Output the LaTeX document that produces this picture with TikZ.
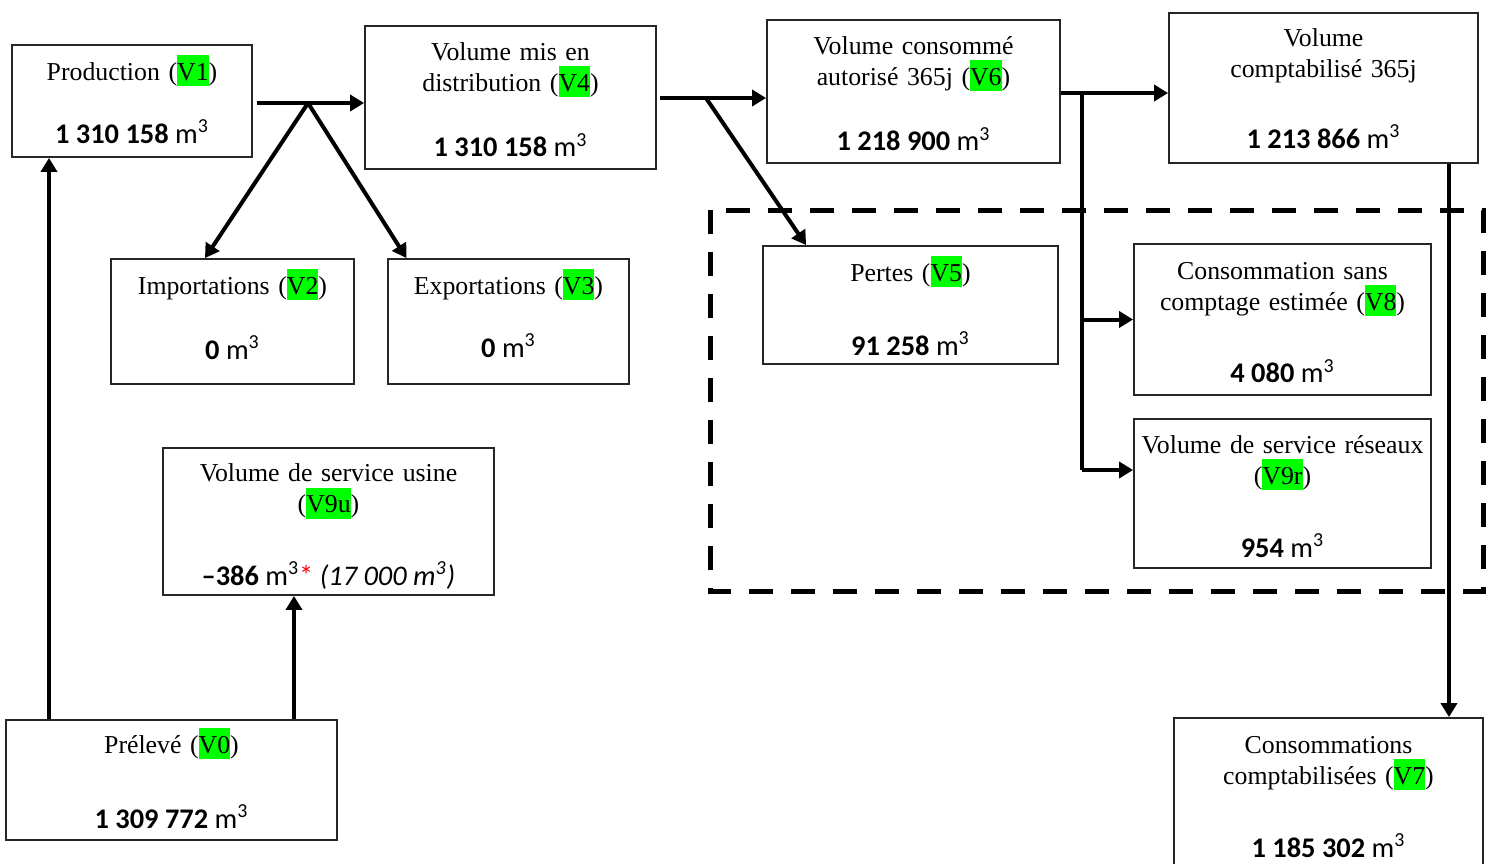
\documentclass[tikz,border=0pt]{standalone}
\usepackage{fontspec}
\setmainfont{Liberation Serif}
\newfontfamily\numfont{Carlito}
\usetikzlibrary{arrows.meta}
\definecolor{hlgreen}{RGB}{0,255,0}
\setlength{\fboxsep}{0pt}
\newcommand{\hl}[1]{\smash{\colorbox{hlgreen}{\rule[-3pt]{0pt}{15.5pt}#1}}}
\newcommand{\vol}[1]{\textbf{#1} m\textsuperscript{3}}

\begin{document}
\begin{tikzpicture}[x=0.5pt, y=-0.5pt,
    box/.style={draw=black!85, line width=0.9pt, rectangle, inner sep=0pt},
    lbl/.style={anchor=base, align=center, text width=168pt, inner sep=0pt,
        font=\fontsize{12.9}{15.5}\selectfont},
    qty/.style={anchor=base, inner sep=0pt, font=\numfont\fontsize{14.2}{17}\selectfont},
    flow/.style={line width=2pt, -{Triangle[length=7pt,width=8pt]}},
    trunk/.style={line width=2pt},
    zone/.style={line width=2.5pt, dash pattern=on 12pt off 9pt}]

\useasboundingbox (0,0) rectangle (1489,863);
\clip (0,0) rectangle (1489,863);

\node[box, minimum width=120pt, minimum height=56pt] (v1) at (132,101) {};
\node[lbl] (v1t) at (132,80) {Production (\hl{V1})};
\node[qty] (v1q) at (132,143) {\vol{1 310 158}};

\node[box, minimum width=145.5pt, minimum height=71.5pt] (v4) at (510.5,97.5) {};
\node[lbl] (v4t) at (510.5,60) {Volume mis en\\distribution (\hl{V4})};
\node[qty] (v4q) at (510.5,156.5) {\vol{1 310 158}};

\node[box, minimum width=146.5pt, minimum height=71.5pt] (v6) at (913.5,91.5) {};
\node[lbl] (v6t) at (913.5,54) {Volume consommé\\autorisé 365j (\hl{V6})};
\node[qty] (v6q) at (913.5,150.5) {\vol{1 218 900}};

\node[box, minimum width=154.5pt, minimum height=75pt] (vc) at (1323.5,88) {};
\node[lbl] (vct) at (1323.5,46) {Volume\\comptabilisé 365j};
\node[qty] (vcq) at (1323.5,148) {\vol{1 213 866}};

\node[box, minimum width=121.5pt, minimum height=62.5pt] (v2) at (232.5,321.5) {};
\node[lbl] (v2t) at (232.5,294) {Importations (\hl{V2})};
\node[qty] (v2q) at (232.5,359) {\vol{0}};

\node[box, minimum width=120.5pt, minimum height=62.5pt] (v3) at (508.5,321.5) {};
\node[lbl] (v3t) at (508.5,294) {Exportations (\hl{V3})};
\node[qty] (v3q) at (508.5,357) {\vol{0}};

\node[box, minimum width=147.5pt, minimum height=59pt] (v5) at (910.5,305) {};
\node[lbl] (v5t) at (910.5,281) {Pertes (\hl{V5})};
\node[qty] (v5q) at (910.5,355) {\vol{91 258}};

\node[box, minimum width=148.5pt, minimum height=75.5pt] (v8) at (1282.5,319.5) {};
\node[lbl] (v8t) at (1282.5,279) {Consommation sans\\comptage estimée (\hl{V8})};
\node[qty] (v8q) at (1282.5,382.5) {\vol{4 080}};

\node[box, minimum width=148.5pt, minimum height=74.5pt] (v9r) at (1282.5,493.5) {};
\node[lbl] (v9rt) at (1282.5,453) {Volume de service réseaux\\(\hl{V9r})};
\node[qty] (v9rq) at (1282.5,557) {\vol{954}};

\node[box, minimum width=165.5pt, minimum height=73.5pt] (v9u) at (328.5,521.5) {};
\node[lbl] (v9ut) at (328.5,481.5) {Volume de service usine\\(\hl{V9u})};
\node[qty] (v9uq) at (328.5,585) {\vol{–386}\textcolor{red}{*} \textit{(17 000 m\textsuperscript{3})}};

\node[box, minimum width=165.5pt, minimum height=60pt] (v0) at (171.5,780) {};
\node[lbl] (v0t) at (171.5,753) {Prélevé (\hl{V0})};
\node[qty] (v0q) at (171.5,828) {\vol{1 309 772}};

\node[box, minimum width=154.5pt, minimum height=81pt] (v7) at (1328.5,799) {};
\node[lbl] (v7t) at (1328.5,753) {Consommations\\comptabilisées (\hl{V7})};
\node[qty] (v7q) at (1328.5,857) {\vol{1 185 302}};

\draw[zone] (710,210) rectangle (1483,591);

\coordinate (j1) at (308,103);
\coordinate (j4) at (706,98);
\coordinate (j6) at (1082,93);
\coordinate (j9) at (1082,470);
\coordinate (c0) at (49,0);
\coordinate (c9) at (294,0);
\coordinate (c7) at (1449,0);

\draw[flow, shorten <=2pt] (v1.east |- j1) -- (v4.west |- j1);
\draw[flow] (j1) -- ([xshift=-13.75pt]v2.north);
\draw[flow] (j1) -- ([xshift=-51pt]v3.north);
\draw[flow, shorten <=1.5pt] (v4.east |- j4) -- (v6.west |- j4);
\draw[flow] (j4) -- ([xshift=22pt]v5.north west);
\draw[flow] (v6.east |- j6) -- (vc.west |- j6);
\draw[trunk] (j6) -- (j9);
\draw[flow] (j6 |- v8.west) -- (v8.west);
\draw[flow] (j9) -- (v9r.west |- j9);
\draw[flow] (vc.south -| c7) -- (v7.north -| c7);
\draw[flow] (v0.north -| c0) -- (v1.south -| c0);
\draw[flow] (v0.north -| c9) -- (v9u.south -| c9);

\end{tikzpicture}
\end{document}
